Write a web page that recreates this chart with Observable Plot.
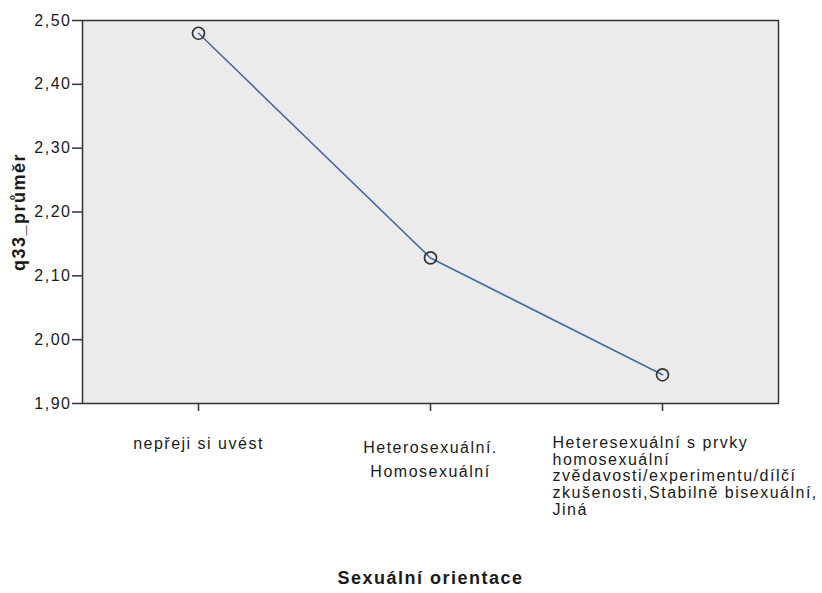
<!DOCTYPE html>
<html><head><meta charset="utf-8">
<script src="https://cdn.jsdelivr.net/npm/d3@7"></script>
<script src="https://cdn.jsdelivr.net/npm/@observablehq/plot@0.6"></script>
<style>
body{margin:0;background:#fff;}
svg text{letter-spacing:1.5px;}
g[aria-label="xtitle"] text{letter-spacing:1px;}
g[aria-label="ytitle"] text{letter-spacing:2px;}
</style></head><body><div id="c"></div>
<script>
const categories = ["nepřeji si uvést", "Heterosexuální. Homosexuální", "Heteresexuální s prvky homosexuální zvědavosti/experimentu/dílčí zkušenosti,Stabilně bisexuální, Jiná"];
const tickLabels = [
  "nepřeji si uvést",
  "Heterosexuální.\nHomosexuální",
  "Heteresexuální s prvky\nhomosexuální\nzvědavosti/experimentu/dílčí\nzkušenosti,Stabilně bisexuální,\nJiná"
];
const means = [2.48, 2.128, 1.945];
const yTicks = [1.90, 2.00, 2.10, 2.20, 2.30, 2.40, 2.50];

const data = categories.map((c, i) => ({cat: c, v: means[i]}));
const lab = new Map(categories.map((c, i) => [c, tickLabels[i]]));
const fmt = d => d.toFixed(2).replace(".", ",");
const FONT = "'Liberation Sans',Arial,sans-serif";

const chart = Plot.plot({
  width: 822, height: 593,
  marginLeft: 82, marginRight: 44, marginTop: 20, marginBottom: 190,
  style: {fontSize: "16px", fontFamily: FONT, color: "#1a1a1a"},
  x: {type: "point", domain: categories, padding: 0.5},
  y: {domain: [1.9, 2.5]},
  marks: [
    Plot.frame({fill: "#ebebeb", stroke: "#333", strokeWidth: 1.5}),
    Plot.axisY(yTicks, {tickSize: 10, tickFormat: fmt, tickPadding: 1, stroke: "#333", strokeWidth: 1.5, fontSize: 16, label: null}),
    Plot.axisX(categories, {tickSize: 8, tickFormat: () => "", stroke: "#333", strokeWidth: 1.5, label: null}),
    Plot.axisX([categories[0]], {tickSize: 0, tickFormat: d => lab.get(d), tickPadding: 34, fontSize: 16, label: null}),
    Plot.axisX([categories[1]], {tickSize: 0, tickFormat: d => lab.get(d), tickPadding: 32, lineHeight: 1.5, fontSize: 16, label: null}),
    Plot.axisX([categories[2]], {tickSize: 0, tickFormat: d => lab.get(d), tickPadding: 32, textAnchor: "start", dx: -110, lineHeight: 1.06, fontSize: 16, label: null}),
    Plot.text(["q33_průměr"], {frameAnchor: "left", textAnchor: "middle", rotate: -90, dx: -63, fontWeight: "bold", fontSize: 18, ariaLabel: "ytitle"}),
    Plot.text(["Sexuální orientace"], {frameAnchor: "bottom", textAnchor: "middle", dy: 180, fontWeight: "bold", fontSize: 18, ariaLabel: "xtitle"}),
    Plot.line(data, {x: "cat", y: "v", stroke: "#4a6aa8", strokeWidth: 1.6}),
    Plot.dot(data, {x: "cat", y: "v", r: 6, stroke: "#333", strokeWidth: 1.7, fill: "none"})
  ]
});
document.getElementById("c").appendChild(chart);
</script></body></html>
